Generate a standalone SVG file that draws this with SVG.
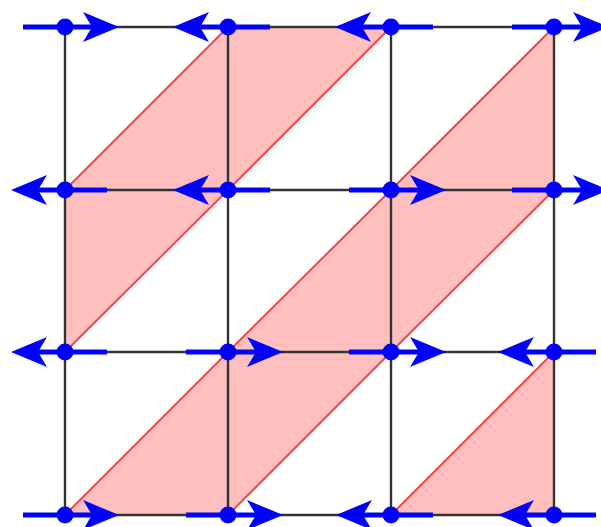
<svg xmlns="http://www.w3.org/2000/svg" xmlns:xlink="http://www.w3.org/1999/xlink" width="601" height="527" viewBox="0 0 601 527">
<style>
.tri{fill:#ffbfbf;stroke:none}
.diag{stroke:#f04848;stroke-width:2;fill:none}
.grid{stroke:#333;stroke-width:2.4;fill:none}
.arr{stroke:#0000ff;stroke-width:5;fill:none}
.head{fill:#0000ff}
.dot{fill:#0000ff}
</style>
<defs>
<path id="ah" d="M0,0 L-36,-15 L-27,0 L-36,15 Z"/>
</defs>
<rect width="601" height="527" fill="#fff"/>
<g id="triangles">
<polygon class="tri" points="65,190 228,27 228,190"/>
<polygon class="tri" points="228,27 391,27 228,190"/>
<polygon class="tri" points="391,190 554,27 554,190"/>
<polygon class="tri" points="65,190 228,190 65,352"/>
<polygon class="tri" points="228,352 391,190 391,352"/>
<polygon class="tri" points="391,190 554,190 391,352"/>
<polygon class="tri" points="65,515 228,352 228,515"/>
<polygon class="tri" points="228,352 391,352 228,515"/>
<polygon class="tri" points="391,515 554,352 554,515"/>
</g>
<g id="diagonals" class="diag">
<line x1="65" y1="190" x2="228" y2="27"/>
<line x1="228" y1="190" x2="391" y2="27"/>
<line x1="391" y1="190" x2="554" y2="27"/>
<line x1="65" y1="352" x2="228" y2="190"/>
<line x1="228" y1="352" x2="391" y2="190"/>
<line x1="391" y1="352" x2="554" y2="190"/>
<line x1="65" y1="515" x2="228" y2="352"/>
<line x1="228" y1="515" x2="391" y2="352"/>
<line x1="391" y1="515" x2="554" y2="352"/>
</g>
<g id="grid" class="grid">
<line x1="65" y1="27" x2="554" y2="27"/>
<line x1="65" y1="190" x2="554" y2="190"/>
<line x1="65" y1="352" x2="554" y2="352"/>
<line x1="65" y1="515" x2="554" y2="515"/>
<line x1="65" y1="27" x2="65" y2="515"/>
<line x1="228" y1="27" x2="228" y2="515"/>
<line x1="391" y1="27" x2="391" y2="515"/>
<line x1="554" y1="27" x2="554" y2="515"/>
</g>
<g id="connectors">
<g class="arr">
<line x1="23" y1="27" x2="100" y2="27"/>
<line x1="192" y1="27" x2="270" y2="27"/>
<line x1="355" y1="27" x2="433" y2="27"/>
<line x1="512" y1="27" x2="590" y2="27"/>
<line x1="30" y1="190" x2="107" y2="190"/>
<line x1="192" y1="190" x2="270" y2="190"/>
<line x1="349" y1="190" x2="427" y2="190"/>
<line x1="512" y1="190" x2="590" y2="190"/>
<line x1="30" y1="352" x2="107" y2="352"/>
<line x1="186" y1="352" x2="264" y2="352"/>
<line x1="349" y1="352" x2="427" y2="352"/>
<line x1="518" y1="352" x2="596" y2="352"/>
<line x1="23" y1="515" x2="100" y2="515"/>
<line x1="186" y1="515" x2="264" y2="515"/>
<line x1="355" y1="515" x2="433" y2="515"/>
<line x1="518" y1="515" x2="596" y2="515"/>
</g>
<g class="head">
<use xlink:href="#ah" transform="translate(119,27)"/>
<use xlink:href="#ah" transform="translate(173,27) scale(-1,1)"/>
<use xlink:href="#ah" transform="translate(335,27) scale(-1,1)"/>
<use xlink:href="#ah" transform="translate(609,27)"/>
<use xlink:href="#ah" transform="translate(11,190) scale(-1,1)"/>
<use xlink:href="#ah" transform="translate(173,190) scale(-1,1)"/>
<use xlink:href="#ah" transform="translate(446,190)"/>
<use xlink:href="#ah" transform="translate(609,190)"/>
<use xlink:href="#ah" transform="translate(11,352) scale(-1,1)"/>
<use xlink:href="#ah" transform="translate(283,352)"/>
<use xlink:href="#ah" transform="translate(446,352)"/>
<use xlink:href="#ah" transform="translate(498,352) scale(-1,1)"/>
<use xlink:href="#ah" transform="translate(119,515)"/>
<use xlink:href="#ah" transform="translate(283,515)"/>
<use xlink:href="#ah" transform="translate(336,515) scale(-1,1)"/>
<use xlink:href="#ah" transform="translate(498,515) scale(-1,1)"/>
</g>
</g>
<g id="nodes" class="dot">
<g id="n00"><circle cx="65" cy="27" r="8.5"/></g>
<g id="n10"><circle cx="228" cy="27" r="8.5"/></g>
<g id="n20"><circle cx="391" cy="27" r="8.5"/></g>
<g id="n30"><circle cx="554" cy="27" r="8.5"/></g>
<g id="n01"><circle cx="65" cy="190" r="8.5"/></g>
<g id="n11"><circle cx="228" cy="190" r="8.5"/></g>
<g id="n21"><circle cx="391" cy="190" r="8.5"/></g>
<g id="n31"><circle cx="554" cy="190" r="8.5"/></g>
<g id="n02"><circle cx="65" cy="352" r="8.5"/></g>
<g id="n12"><circle cx="228" cy="352" r="8.5"/></g>
<g id="n22"><circle cx="391" cy="352" r="8.5"/></g>
<g id="n32"><circle cx="554" cy="352" r="8.5"/></g>
<g id="n03"><circle cx="65" cy="515" r="8.5"/></g>
<g id="n13"><circle cx="228" cy="515" r="8.5"/></g>
<g id="n23"><circle cx="391" cy="515" r="8.5"/></g>
<g id="n33"><circle cx="554" cy="515" r="8.5"/></g>
</g>
</svg>
